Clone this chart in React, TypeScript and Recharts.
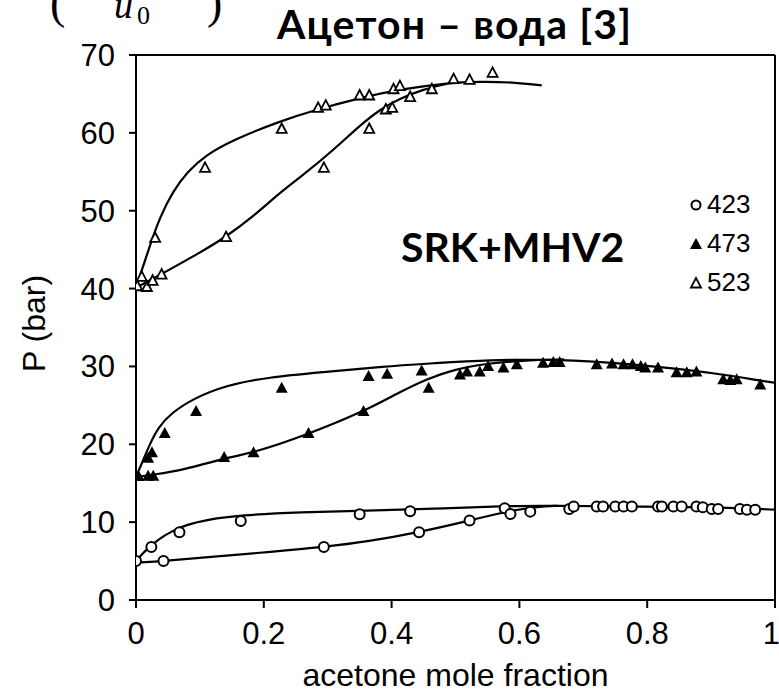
import React from 'react';
import { ComposedChart, Line, Scatter, XAxis, YAxis, ReferenceLine, Legend, Label } from 'recharts';

// ---- tick labels ----
const xTicks = [0, 0.2, 0.4, 0.6, 0.8, 1];
const yTicks = [0, 10, 20, 30, 40, 50, 60, 70];
const legendLabels = ['423', '473', '523'];

// ---- experimental points [x, P] ----
const exp423: [number, number][] = [
  [0, 5.0], [0.024, 6.8], [0.043, 5.0], [0.068, 8.7], [0.164, 10.15], [0.294, 6.8], [0.35, 11.0],
  [0.429, 11.4], [0.443, 8.7], [0.522, 10.2], [0.577, 11.8], [0.586, 11.05], [0.617, 11.35],
  [0.678, 11.7], [0.685, 12.0], [0.721, 12.0], [0.731, 12.0], [0.75, 12.0], [0.763, 12.0],
  [0.776, 12.0], [0.817, 12.0], [0.823, 12.0], [0.841, 12.0], [0.854, 12.0], [0.877, 12.0],
  [0.887, 11.9], [0.901, 11.7], [0.911, 11.7], [0.945, 11.7], [0.956, 11.6], [0.969, 11.6],
];
const exp473: [number, number][] = [
  [0.004, 15.85], [0.019, 15.9], [0.027, 15.9], [0.019, 18.2], [0.025, 18.9], [0.045, 21.4],
  [0.094, 24.2], [0.138, 18.3], [0.184, 18.9], [0.228, 27.2], [0.27, 21.4], [0.356, 24.2],
  [0.364, 28.7], [0.393, 29.0], [0.447, 29.4], [0.458, 27.2], [0.507, 28.9], [0.518, 29.3],
  [0.538, 29.3], [0.551, 30.0], [0.575, 29.8], [0.596, 30.2], [0.637, 30.4], [0.653, 30.5],
  [0.663, 30.5], [0.721, 30.2], [0.745, 30.3], [0.763, 30.2], [0.777, 30.2], [0.79, 30.0],
  [0.797, 29.8], [0.817, 29.8], [0.846, 29.2], [0.862, 29.2], [0.877, 29.3], [0.919, 28.3],
  [0.93, 28.2], [0.94, 28.3], [0.977, 27.6],
];
const exp523: [number, number][] = [
  [0.002, 40.3], [0.009, 41.5], [0.017, 40.2], [0.026, 41.0], [0.04, 41.8], [0.03, 46.5],
  [0.108, 55.5], [0.141, 46.6], [0.228, 60.5], [0.285, 63.2], [0.297, 63.5], [0.294, 55.5],
  [0.35, 64.8], [0.365, 64.8], [0.365, 60.5], [0.391, 63.0], [0.401, 63.2], [0.403, 65.6],
  [0.413, 66.0], [0.429, 64.6], [0.463, 65.6], [0.497, 66.9], [0.522, 66.8], [0.558, 67.7],
];

// ---- model curves (SRK+MHV2) [x, P] ----
const bubble423: [number, number][] = [
  [0, 5.0], [0.006, 5.6], [0.018, 6.6], [0.035, 7.8], [0.055, 8.8], [0.08, 9.7], [0.11, 10.3],
  [0.163, 10.9], [0.257, 11.3], [0.361, 11.45], [0.465, 11.7], [0.575, 12.1], [0.65, 12.1],
  [0.8, 12.0], [0.9, 11.9], [0.96, 11.75], [1.0, 11.6],
];
const dew423: [number, number][] = [
  [0, 4.8], [0.045, 5.0], [0.112, 5.5], [0.214, 6.2], [0.294, 6.8], [0.363, 7.5], [0.443, 8.7],
  [0.522, 10.2], [0.586, 11.5], [0.63, 12.0], [0.66, 12.1],
];
const bubble473: [number, number][] = [
  [0, 15.8], [0.004, 16.6], [0.011, 17.9], [0.022, 20.1], [0.035, 22.2], [0.055, 24.0],
  [0.09, 25.9], [0.142, 27.6], [0.205, 28.6], [0.298, 29.3], [0.387, 30.0], [0.465, 30.4],
  [0.549, 30.85], [0.669, 30.9], [0.757, 30.4], [0.862, 29.6], [0.94, 28.7], [0.975, 28.2], [1.0, 27.9],
];
const dew473: [number, number][] = [
  [0, 15.8], [0.027, 16.1], [0.074, 16.7], [0.137, 18.2], [0.184, 18.9], [0.267, 21.2],
  [0.356, 24.2], [0.41, 26.6], [0.455, 28.4], [0.497, 29.6], [0.549, 30.4], [0.62, 30.85], [0.67, 30.9],
];
const bubble523: [number, number][] = [
  [0, 40.3], [0.005, 41.4], [0.011, 42.8], [0.022, 45.6], [0.038, 49.3], [0.058, 52.5],
  [0.08, 55.0], [0.11, 57.2], [0.152, 59.1], [0.225, 61.5], [0.283, 63.0], [0.351, 64.5],
  [0.413, 65.6], [0.486, 66.4], [0.538, 66.6], [0.59, 66.5], [0.635, 66.1],
];
const dew523: [number, number][] = [
  [0, 40.1], [0.043, 42.0], [0.1, 44.6], [0.142, 46.7], [0.184, 49.3], [0.225, 52.3],
  [0.262, 54.6], [0.309, 57.8], [0.351, 61.0], [0.382, 63.0], [0.413, 64.4], [0.45, 65.6],
  [0.486, 66.3],
];

const toPts = (a: [number, number][]) => a.map(([x, y]) => ({ x, y }));

const FONT = "'Liberation Sans', Arial, sans-serif";
const BOLD = "Lato, 'Open Sans', 'Noto Sans', sans-serif";
const SERIF = "'Liberation Serif', 'DejaVu Serif', serif";

const OpenCircle = (p: any) => (
  <circle cx={p.cx} cy={p.cy} r={5} fill="#fff" stroke="#000" strokeWidth={2} />
);
const FilledTri = (p: any) => (
  <polygon points={`${p.cx},${p.cy - 6.5} ${p.cx - 6},${p.cy + 4.5} ${p.cx + 6},${p.cy + 4.5}`} fill="#000" />
);
const OpenTri = (p: any) => (
  <polygon points={`${p.cx},${p.cy - 5.5} ${p.cx - 5},${p.cy + 4} ${p.cx + 5},${p.cy + 4}`} fill="#fff" stroke="#000" strokeWidth={1.8} strokeLinejoin="miter" />
);

const LegendBox = () => {
  const rows = [
    { label: legendLabels[0], mark: <circle cx={8} cy={9} r={4.5} fill="#fff" stroke="#000" strokeWidth={2} /> },
    { label: legendLabels[1], mark: <polygon points="8,3 2,14 14,14" fill="#000" /> },
    { label: legendLabels[2], mark: <polygon points="8,4 3,13.5 13,13.5" fill="#fff" stroke="#000" strokeWidth={1.8} /> },
  ];
  return (
    <div style={{ fontFamily: FONT, fontSize: 26, color: '#000', lineHeight: '39px' }}>
      {rows.map((r) => (
        <div key={r.label} style={{ display: 'flex', alignItems: 'center', height: 39 }}>
          <svg width={16} height={18} style={{ marginRight: 3 }}>{r.mark}</svg>
          <span>{r.label}</span>
        </div>
      ))}
    </div>
  );
};

const XTitle = (props: any) => {
  const vb = props.viewBox || { x: 136, width: 639 };
  return (
    <text x={vb.x + vb.width / 2} y={686} textAnchor="middle" fontFamily={FONT} fontSize={32} fill="#000">
      acetone mole fraction
    </text>
  );
};
const YTitle = (props: any) => {
  const vb = props.viewBox || { y: 55, height: 545 };
  const cy = vb.y + vb.height / 2 - 4;
  return (
    <text x={45} y={cy} transform={`rotate(-90, 45, ${cy})`} textAnchor="middle" fontFamily={FONT} fontSize={32} fill="#000">
      P (bar)
    </text>
  );
};

const fmt = (v: number) => (v === 0 ? '0' : v === 1 ? '1' : String(v));

export default function App() {
  const lineProps = { type: 'basis' as const, dataKey: 'y', stroke: '#000', strokeWidth: 2.2, dot: false, isAnimationActive: false, legendType: 'none' as const };
  return (
    <div style={{ position: 'absolute', left: 0, top: 0, width: 779, height: 695, background: '#fff', overflow: 'hidden' }}>
      <ComposedChart width={779} height={695} margin={{ top: 55, right: 4, bottom: 0, left: 0 }}>
        <XAxis
          type="number"
          dataKey="x"
          domain={[0, 1]}
          ticks={xTicks}
          tickFormatter={fmt}
          height={95}
          tickSize={8}
          tickMargin={14}
          stroke="#000"
          strokeWidth={2}
          tick={{ fontSize: 31, fill: '#000', fontFamily: FONT }}
          allowDataOverflow
        >
          <Label content={<XTitle />} />
        </XAxis>
        <YAxis
          type="number"
          dataKey="y"
          domain={[0, 70]}
          ticks={yTicks}
          width={136}
          tickSize={7}
          tickMargin={14}
          stroke="#000"
          strokeWidth={2}
          tick={{ fontSize: 31, fill: '#000', fontFamily: FONT }}
          allowDataOverflow
        >
          <Label content={<YTitle />} />
        </YAxis>
        <ReferenceLine y={70} stroke="#000" strokeWidth={2} />
        <ReferenceLine x={1} stroke="#000" strokeWidth={2} />
        <Line {...lineProps} data={toPts(bubble423)} name="b423" />
        <Line {...lineProps} data={toPts(dew423)} name="d423" />
        <Line {...lineProps} data={toPts(bubble473)} name="b473" />
        <Line {...lineProps} data={toPts(dew473)} name="d473" />
        <Line {...lineProps} data={toPts(bubble523)} name="b523" />
        <Line {...lineProps} data={toPts(dew523)} name="d523" />
        <Scatter data={toPts(exp423)} dataKey="y" name={legendLabels[0]} shape={OpenCircle} isAnimationActive={false} />
        <Scatter data={toPts(exp473)} dataKey="y" name={legendLabels[1]} shape={FilledTri} isAnimationActive={false} />
        <Scatter data={toPts(exp523)} dataKey="y" name={legendLabels[2]} shape={OpenTri} isAnimationActive={false} />
        <Legend
          layout="horizontal"
          verticalAlign="middle"
          align="center"
          content={<LegendBox />}
          wrapperStyle={{ position: 'absolute', left: 688, top: 185, width: 80, height: 120 }}
        />
      </ComposedChart>
      <svg width={779} height={695} style={{ position: 'absolute', left: 0, top: 0, pointerEvents: 'none' }}>
        <text x={50} y={18} fontFamily={SERIF} fontSize={46} fill="#000">(</text>
        <text x={114} y={18} fontFamily={SERIF} fontStyle="italic" fontSize={38} fill="#000">u</text>
        <text x={137} y={24} fontFamily={SERIF} fontSize={26} fill="#000">0</text>
        <text x={207} y={18} fontFamily={SERIF} fontSize={46} fill="#000">)</text>
        <text x={454} y={39} textAnchor="middle" fontFamily={BOLD} fontWeight={700} fontSize={41} textLength={354} lengthAdjust="spacing" fill="#000">Ацетон – вода [3]</text>
        <text x={401} y={262} fontFamily={BOLD} fontWeight={700} fontSize={41} fill="#000">SRK+MHV2</text>
      </svg>
    </div>
  );
}
